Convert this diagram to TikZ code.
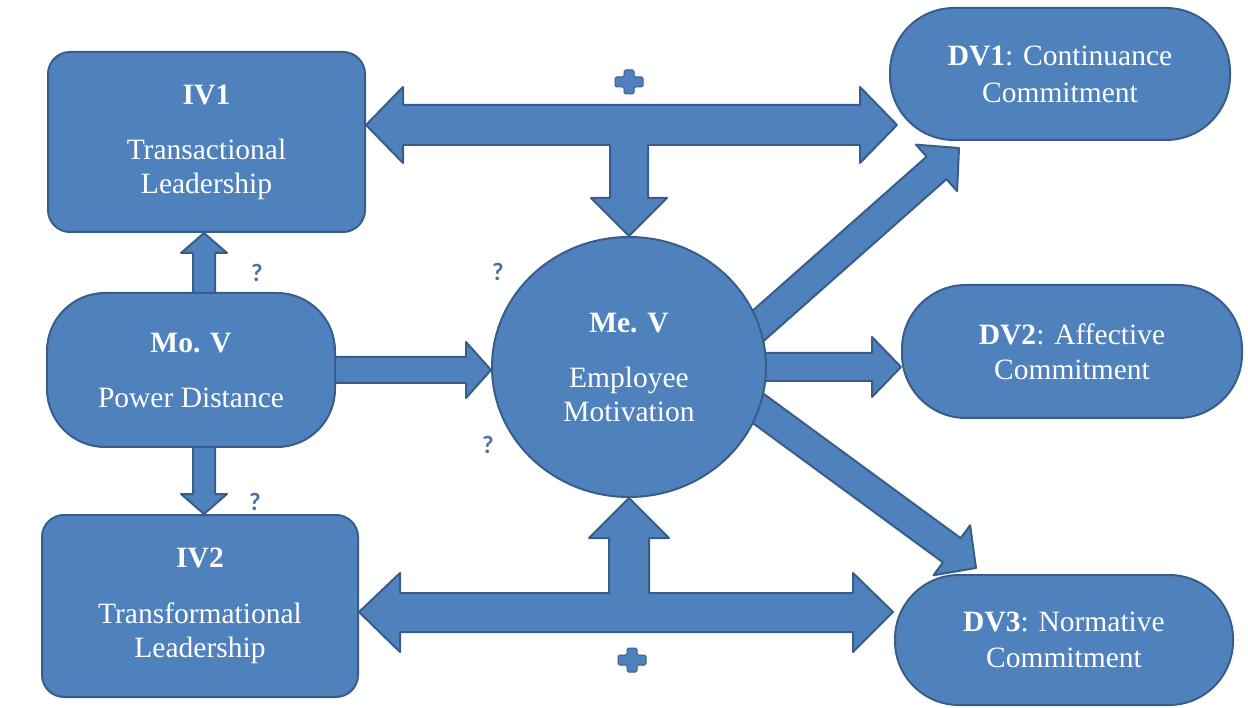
\documentclass[tikz,border=0pt]{standalone}
\usepackage{fontspec}
\setmainfont{Liberation Serif}
\newfontfamily\qfont{Carlito}
\usetikzlibrary{calc,shapes.geometric,backgrounds}
\definecolor{boxfill}{HTML}{4F81BD}
\definecolor{boxline}{HTML}{385D8A}
\definecolor{qcol}{HTML}{4E70A3}
\tikzset{
 base/.style={fill=boxfill, draw=boxline, line width=2pt, text=white, align=center, inner sep=0pt,
   font=\fontsize{29.5}{34}\selectfont},
 rbox/.style={base, rectangle, rounded corners=22pt},
 pill/.style={base, rectangle, rounded corners=64pt},
 ebox/.style={base, ellipse},
 fat/.style={fill=boxfill, draw=boxline, line width=2pt, line join=round},
 qmark/.style={text=qcol, inner sep=0pt, font=\qfont\bfseries\fontsize{25}{25}\selectfont},
 plussign/.pic={\draw[fat, line width=1pt, rounded corners=1.5pt]
   (-5,-12)--(5,-12)--(5,-5)--(14,-5)--(14,5)--(5,5)--(5,12)--(-5,12)--(-5,5)--(-14,5)--(-14,-5)--(-5,-5)--cycle;},
}
% #1 from, #2 to, #3 half shaft width, #4 half head width, #5 head length
\newcommand{\fatarrow}[5]{%
  \coordinate (fah) at ($(#2)!#5!(#1)$);
  \draw[fat] ($(#1)!#3!90:(#2)$) -- ($(fah)!#3!-90:(#1)$) -- ($(fah)!#4!-90:(#1)$) -- (#2)
    -- ($(fah)!#4!90:(#1)$) -- ($(fah)!#3!90:(#1)$) -- ($(#1)!#3!-90:(#2)$) -- cycle;}
\begin{document}
\begin{tikzpicture}[x=1pt,y=-1pt]
\useasboundingbox (0,0) rectangle (1248,708);

% nodes
\node[rbox, minimum width=317pt, minimum height=180pt] (IV1) at (206.5,142)
  {\textbf{IV1}\\[21pt]Transactional\\Leadership};
\node[rbox, minimum width=316pt, minimum height=182pt] (IV2) at (200,606)
  {\textbf{IV2}\\[22pt]Transformational\\Leadership};
\node[base, rectangle, rounded corners=58pt, minimum width=288pt, minimum height=154pt] (MoV) at (191,370)
  {\textbf{Mo. V}\\[21pt]Power Distance};
\node[ebox, minimum width=274pt, minimum height=260pt] (MeV) at (629,367)
  {\textbf{Me. V}\\[21pt]Employee\\Motivation};
\node[pill, minimum width=340pt, minimum height=132pt] (DV1) at (1060,74)
  {\textbf{DV1}: Continuance\\[3pt]Commitment};
\node[pill, minimum width=340pt, minimum height=133pt] (DV2) at (1072,351.5)
  {\textbf{DV2}: Affective\\[1pt]Commitment};
\node[pill, minimum width=338pt, minimum height=130pt] (DV3) at (1064,640)
  {\textbf{DV3}: Normative\\[2pt]Commitment};

% helper coordinates
\coordinate (vx) at (204,0);
\coordinate (topy) at (0,125);
\coordinate (boty) at (0,612);
\coordinate (tmpa) at (MoV.north -| vx);
\coordinate (a1s) at ($(tmpa)+(0,10)$);
\coordinate (a1e) at (IV1.south -| vx);
\coordinate (tmpb) at (MoV.south -| vx);
\coordinate (a2s) at ($(tmpb)+(0,-10)$);
\coordinate (a2e) at (IV2.north -| vx);
\coordinate (a3s) at ($(MoV.east)+(-10,0)$);
\coordinate (a3e) at (MoV.east -| MeV.west);
\coordinate (a4s) at ($(MeV.east)+(-15,0)$);
\coordinate (a4e) at (MeV.east -| DV2.west);
\coordinate (d1) at ($(DV1.south west)+(70,7)$);
\coordinate (d1b) at (MeV.18);
\coordinate (a5s) at ($(d1b)!-20pt!(d1)$);
\coordinate (d3) at ($(DV3.north west)+(82,-6)$);
\coordinate (d3b) at (MeV.-18);
\coordinate (a6s) at ($(d3b)!-20pt!(d3)$);
\coordinate (TL) at (IV1.east |- topy);
\coordinate (BL) at (IV2.east |- boty);

\begin{scope}[on background layer]
  \fatarrow{a1s}{a1e}{11pt}{23pt}{20pt}
  \fatarrow{a2s}{a2e}{11pt}{23pt}{20pt}
  \fatarrow{a3s}{a3e}{13pt}{28pt}{25pt}
  \fatarrow{a4s}{a4e}{14pt}{30pt}{29pt}
  \fatarrow{a5s}{d1}{15pt}{31pt}{30pt}
  \fatarrow{a6s}{d3}{15pt}{31pt}{30pt}
  % top composite arrow
  \draw[fat] (TL) -- (403,87) -- (403,105) -- (860,105) -- (860,87) -- (897,125) -- (860,163)
    -- (860,145) -- (648,145) -- (648,198) -- (667,198) -- (MeV.north) -- (591,198) -- (610,198)
    -- (610,145) -- (403,145) -- (403,163) -- cycle;
  % bottom composite arrow
  \draw[fat] (BL) -- (400,573) -- (400,593) -- (609,593) -- (609,538) -- (589,538) -- (MeV.south)
    -- (669,538) -- (649,538) -- (649,593) -- (853,593) -- (853,573) -- (893,612) -- (853,652)
    -- (853,632) -- (400,632) -- (400,652) -- cycle;
\end{scope}

% plus signs
\pic at (629,82) {plussign};
\pic at (632,660) {plussign};

% question marks
\node[qmark] (q1) at (257,273) {?};
\node[qmark] (q2) at (498,272) {?};
\node[qmark] (q3) at (488,445) {?};
\node[qmark] (q4) at (255,502) {?};
\end{tikzpicture}
\end{document}
